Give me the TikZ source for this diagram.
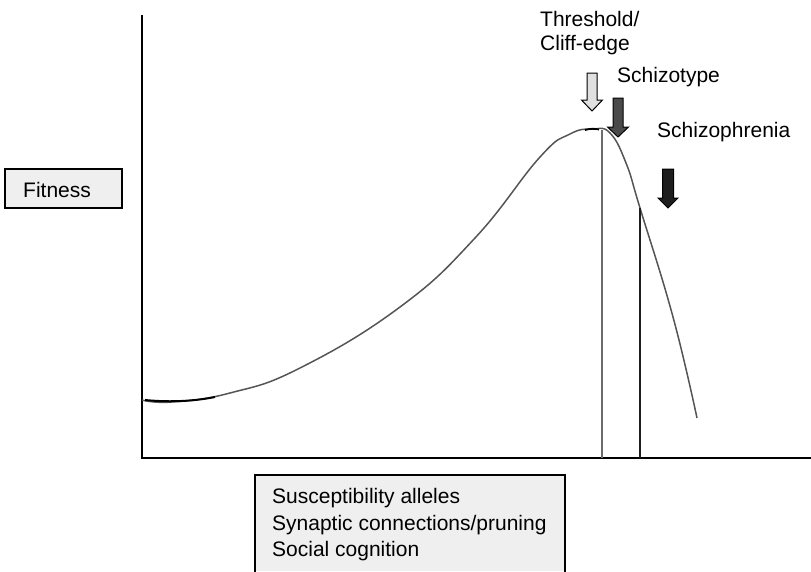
\documentclass[tikz,border=0pt]{standalone}
\usepackage{fontspec}
\setmainfont{Liberation Sans}
\definecolor{boxfill}{HTML}{EFEFEF}
\definecolor{curvecol}{HTML}{555555}
\definecolor{lightarrow}{HTML}{E0E0E0}
\definecolor{midarrow}{HTML}{4A4A4A}
\definecolor{darkarrow}{HTML}{1E1E1E}
\newcommand{\blockarrowdown}[7]{% cx, top, headstart, tip, shafthalf, headhalf, color
  \filldraw[fill=#7,draw=black,line width=1pt,line join=miter]
    ({#1-#5},#2) -- ({#1+#5},#2) -- ({#1+#5},#3) -- ({#1+#6},#3) -- (#1,#4)
    -- ({#1-#6},#3) -- ({#1-#5},#3) -- cycle;}
\tikzset{
  lbl/.style={anchor=base west,inner sep=0pt,font=\fontsize{21}{26.5}\selectfont},
  axis/.style={line width=2pt,black},
  boxstyle/.style={fill=boxfill,draw=black,line width=1.5pt}
}
\begin{document}
\begin{tikzpicture}[x=1pt,y=-1pt]
\useasboundingbox (0,0) rectangle (811,571);
% axes
\draw[axis] (142,15) -- (142,458) -- (811,458);
% fitness curve
\draw[curvecol,line width=1.5pt] plot[smooth,tension=0.75] coordinates {
 (142,400) (172,402) (230,393) (300,368)
 (400,307) (475,238) (540,157) (570,134)
 (593,129) (610,133) (626,163) (640,208)
 (673,317) (697,418)};
\draw[black,line width=2pt] (145,400) .. controls (165,402) and (190,402) .. (215,397);
\draw[black,line width=1.8pt] (585,130) .. controls (590,128.5) and (595,128.5) .. (599,129.5);
% vertical markers
\draw[gray!85!black,line width=2.2pt] (602,130) -- (602,458);
\draw[darkarrow,line width=2.2pt] (640,208) -- (640,458);
% block arrows
\blockarrowdown{592}{73}{100}{111}{5}{10.5}{lightarrow}
\blockarrowdown{618}{98}{127}{137}{5}{10.5}{midarrow}
\blockarrowdown{668}{169}{198}{208}{5.5}{10}{darkarrow}
% labels
\node[lbl] (thr) at (540,26) {Threshold/};
\node[lbl] (cliff) at (540,50) {Cliff-edge};
\node[lbl] (stype) at (617,82) {Schizotype};
\node[lbl] (sphren) at (657,137) {Schizophrenia};
% fitness box
\filldraw[boxstyle] (5,169) rectangle (122,208);
\node[lbl] (fit) at (23,197) {Fitness};
% bottom box (open at bottom)
\fill[boxfill] (255,475) rectangle (565,571);
\draw[black,line width=1.5pt] (255,572) -- (255,475) -- (565,475) -- (565,572);
\node[lbl] (l1) at (272,503) {Susceptibility alleles};
\node[lbl] (l2) at (272,530) {Synaptic connections/pruning};
\node[lbl] (l3) at (272,556) {Social cognition};
\end{tikzpicture}
\end{document}
